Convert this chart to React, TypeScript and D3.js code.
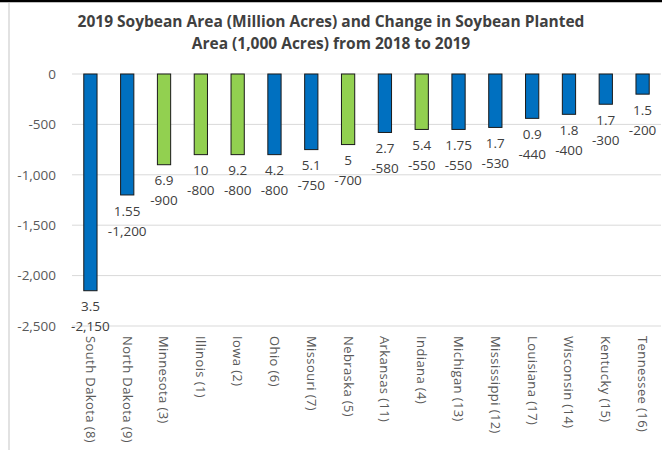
import React from "react";
import * as d3 from "d3";

const categories = [
  "South Dakota (8)", "North Dakota (9)", "Minnesota (3)", "Illinois (1)", "Iowa (2)", "Ohio (6)",
  "Missouri (7)", "Nebraska (5)", "Arkansas (11)", "Indiana (4)", "Michigan (13)", "Mississippi (12)",
  "Louisiana (17)", "Wisconsin (14)", "Kentucky (15)", "Tennessee (16)",
];
const changes = [-2150, -1200, -900, -800, -800, -800, -750, -700, -580, -550, -550, -530, -440, -400, -300, -200];
const areas = ["3.5", "1.55", "6.9", "10", "9.2", "4.2", "5.1", "5", "2.7", "5.4", "1.75", "1.7", "0.9", "1.8", "1.7", "1.5"];
const increased = [false, false, true, true, true, false, false, true, false, true, false, false, false, false, false, false];
const yTicks = [0, -500, -1000, -1500, -2000, -2500];
const titleLines = ["2019 Soybean Area (Million Acres) and Change in Soybean Planted", "Area (1,000 Acres) from 2018 to 2019"];

const W = 662, H = 450;
const font = "'Open Sans', sans-serif";

export default function App() {
  const x = d3.scaleBand<string>().domain(categories).range([72, 661]).paddingInner(0.64).paddingOuter(0.32);
  const y = d3.scaleLinear().domain([0, -2500]).range([74, 326]);
  const f = d3.format(",");
  const fmt = (v: number) => f(v).replace("\u2212", "-");
  return (
    <svg width={W} height={H} style={{ position: "absolute", left: 0, top: 0, background: "#fff" }}>
      <rect x={0} y={0} width={W} height={H} fill="#fff" />
      <line x1={0} x2={W} y1={1} y2={1} stroke="#000" strokeWidth={2.5} />
      <line x1={9} x2={9} y1={3} y2={H} stroke="#d9d9d9" strokeWidth={1.5} />
      {titleLines.map((t, i) => (
        <text key={i} x={331} y={22 + i * 22} dy="0.35em" textAnchor="middle" fontFamily={font} fontWeight="bold" fontSize={15.5} fill="#404040">{t}</text>
      ))}
      {yTicks.map((t) => (
        <g key={t}>
          <line x1={72} x2={661} y1={y(t)} y2={y(t)} stroke="#d9d9d9" strokeWidth={1} />
          <text x={56} y={y(t)} dy="0.35em" textAnchor="end" fontFamily={font} fontSize={13.5} fill="#595959">{fmt(t)}</text>
        </g>
      ))}
      {categories.map((c, i) => {
        const bx = x(c)!;
        const cx = bx + x.bandwidth() / 2;
        const yEnd = y(changes[i]);
        return (
          <g key={c}>
            <rect x={bx} y={y(0)} width={x.bandwidth()} height={yEnd - y(0)} fill={increased[i] ? "#92D050" : "#0070C0"} stroke="#1a1a1a" strokeWidth={1} />
            <text x={cx} y={yEnd + 16} dy="0.35em" textAnchor="middle" fontFamily={font} fontSize={13.5} fill="#404040">{areas[i]}</text>
            <text x={cx} y={yEnd + 36} dy="0.35em" textAnchor="middle" fontFamily={font} fontSize={13.5} fill="#404040">{fmt(changes[i])}</text>
            <text transform={`translate(${cx},${336}) rotate(90)`} dy="0.35em" textAnchor="start" fontFamily={font} fontSize={13} letterSpacing={0.4} fill="#595959">{c}</text>
          </g>
        );
      })}
    </svg>
  );
}
